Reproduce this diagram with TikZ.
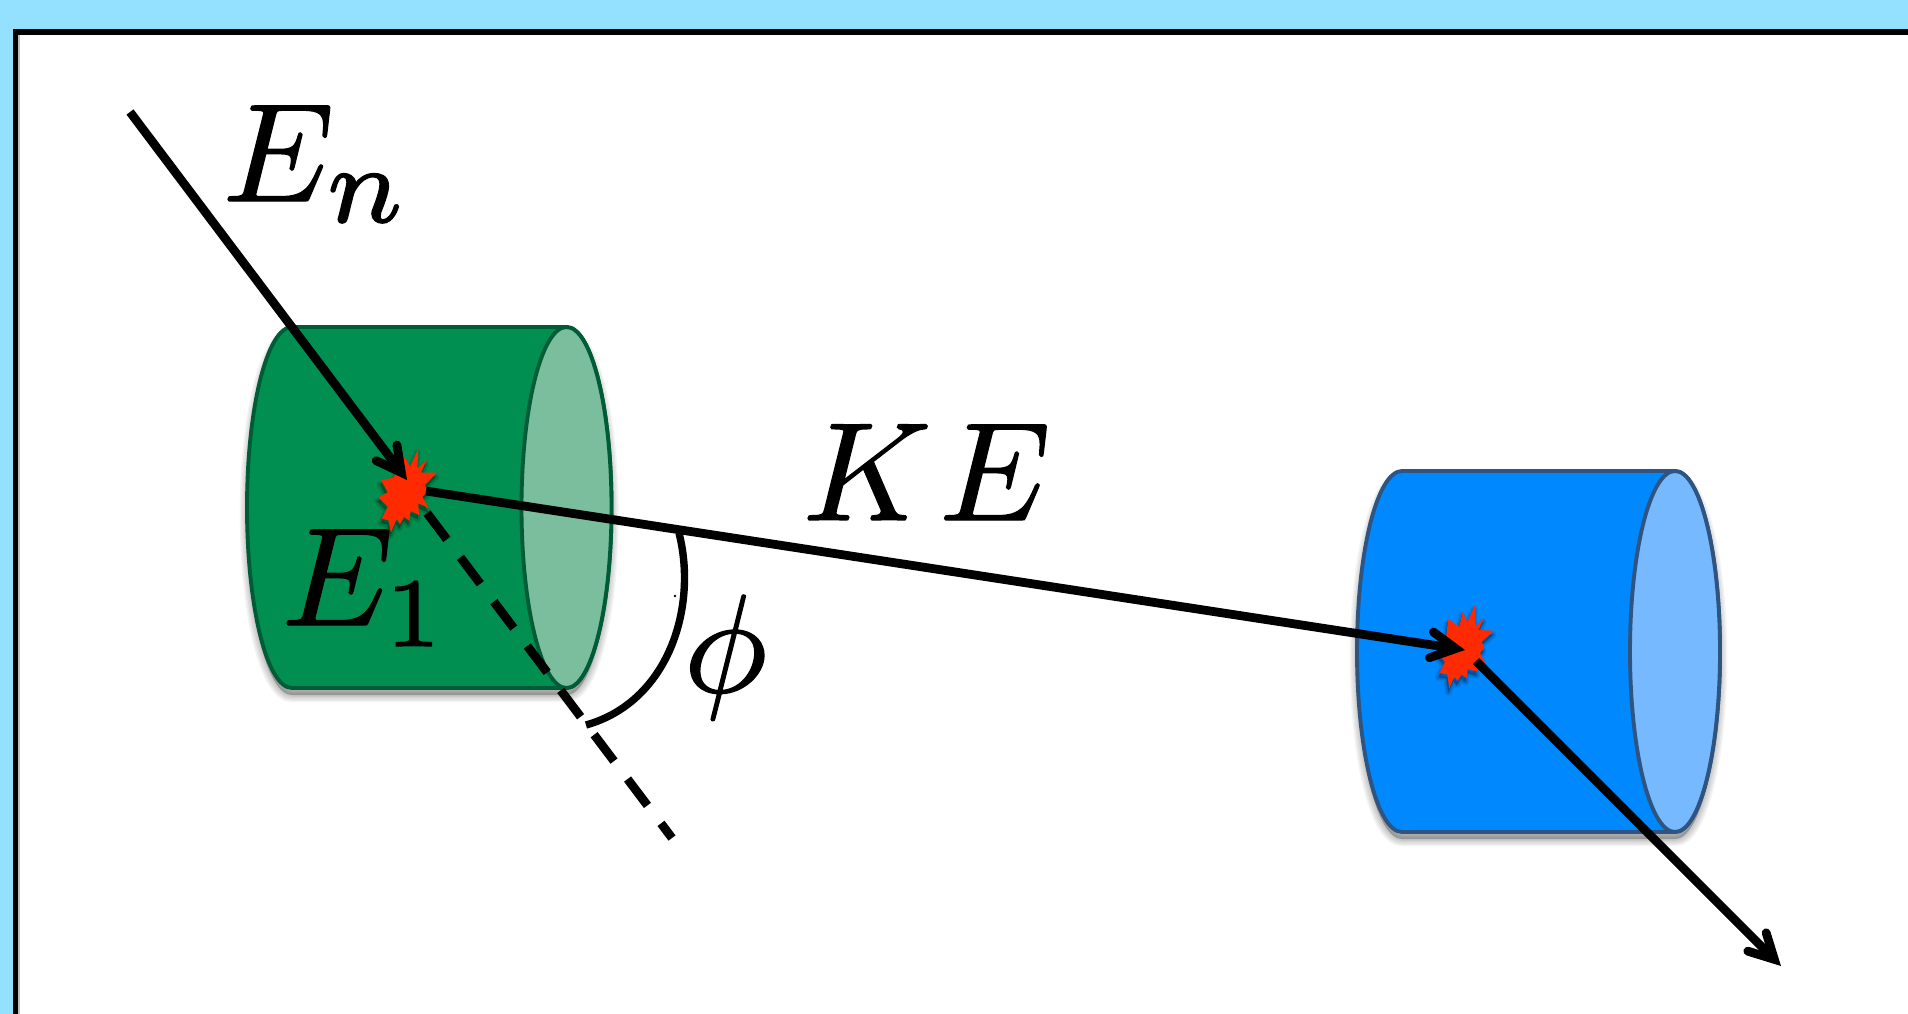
\documentclass[tikz,border=0pt]{standalone}
\usepackage{graphicx}
\usetikzlibrary{arrows.meta}
\definecolor{skybg}{RGB}{147,225,255}
\definecolor{greenfill}{RGB}{0,143,80}
\definecolor{greenedge}{RGB}{0,92,55}
\definecolor{greenface}{RGB}{122,190,157}
\definecolor{bluefill}{RGB}{0,136,255}
\definecolor{blueedge}{RGB}{47,84,128}
\definecolor{blueface}{RGB}{119,185,255}
\definecolor{burst}{RGB}{255,42,0}
\newcommand{\heavy}[1]{\special{pdf:code 2 Tr 0.1 w}#1\special{pdf:code 0 Tr 1 w}}
\tikzset{
  ray/.style={line width=12.5pt,draw=black,-{Straight Barb[length=35pt,width=37pt,line cap=round,line join=miter]}},
  dashray/.style={line width=12.5pt,draw=black,dash pattern=on 47pt off 32pt},
  anglearc/.style={line width=10.5pt,draw=black},
  biglabel/.style={inner sep=0pt,anchor=base west,scale=19.9},
  burststyle/.style={fill=burst,draw=none},
  softshadow/.style={draw=black,fill=black,opacity=0.045,line join=round}
}
% cylinder: #1 left x, #2 right-ellipse centre x, #3 centre y, #4 half height, #5 fill, #6 edge, #7 face
\newcommand{\mycylinder}[7]{%
  \foreach \w in {1,5,9,13,17,21}{
    \path[softshadow,line width=\w pt] (#1+45,#3-#4+7) arc[start angle=-90,end angle=-270,x radius=45,y radius=#4] -- (#2,#3+#4+7) arc[start angle=90,end angle=-90,x radius=45,y radius=#4] -- cycle;
  }
  \path[fill=#5,draw=#6,line width=5.5pt,line join=round] (#1+45,#3-#4) arc[start angle=-90,end angle=-270,x radius=45,y radius=#4] -- (#2,#3+#4) arc[start angle=90,end angle=-90,x radius=45,y radius=#4] -- cycle;
  \path[fill=#7,draw=#6,line width=5.5pt] (#2,#3) ellipse[x radius=45,y radius=#4];
}
\begin{document}
\begin{tikzpicture}[x=0.05cm,y=-0.05cm]
\useasboundingbox (0,0) rectangle (1908,1014);
\fill[skybg] (0,0) rectangle (1908,1014);
\fill[black] (13,29) rectangle (1908,1014);
\fill[white] (18,35) rectangle (1908,1014);
\fill[black!25] (18,35) rectangle (19.5,1014);

\mycylinder{247}{566.5}{507.5}{180.5}{greenfill}{greenedge}{greenface}
\mycylinder{1357}{1675}{651.5}{180.5}{bluefill}{blueedge}{blueface}

% burst shapes
\def\burstA{(418.3,448.3) -- (417.3,468.3) -- (426.7,460) -- (421,472.7) -- (436.7,472.7) -- (425,485) -- (427.7,491.7) -- (422.3,496.7) -- (429,508.3) -- (418.3,503.3) -- (419,515) -- (410.7,511) -- (409.3,521) -- (404.3,516.7) -- (400,524.3) -- (396.7,519) -- (391,532.3) -- (388.3,520) -- (381.7,519) -- (387.7,506.7) -- (378.3,497.3) -- (387.7,492.3) -- (381,480) -- (393.3,477.7) -- (405,456.7) -- (410,466.7) -- cycle}
\def\burstB{(1475,605) -- (1475,626.7) -- (1484.3,617.7) -- (1478.3,630) -- (1494,630.7) -- (1481.7,641.7) -- (1484.3,647.7) -- (1480,653.3) -- (1486,665) -- (1476.7,661) -- (1477.3,671.7) -- (1467.7,669) -- (1466.7,678.3) -- (1461.7,674.3) -- (1457.7,681) -- (1454.3,676.7) -- (1449.3,688.3) -- (1447.3,674.3) -- (1439.3,673.3) -- (1445,661.7) -- (1436.7,651.7) -- (1445,645) -- (1448.3,619) -- (1459.3,626.7) -- (1462.7,611.7) -- (1467.3,622.3) -- cycle}
\foreach \w in {1,4,7,10}{
  \path[softshadow,line width=\w pt,opacity=0.07,shift={(-1,4)}] \burstA;
  \path[softshadow,line width=\w pt,opacity=0.07,shift={(-1,4)}] \burstB;
}
\path[burststyle] \burstA;
\path[burststyle] \burstB;

% labels
\node[biglabel] (en) at (220,201) {\heavy{$E_{\scalebox{1.12}{$\scriptstyle n$}}$}};
\node[biglabel] (eone) at (279,625) {\heavy{$E_1$}};
\node[biglabel] (ke) at (800,520) {\heavy{$K\mkern1muE$}};
\node[biglabel] (phi) at (681,692) {\heavy{$\phi$}};

% connector ends
\coordinate (nstart) at (130,112);
\coordinate (hitA) at (407,480);
\coordinate (keStart) at (426,491);
\coordinate (hitB) at (1465,650);
\coordinate (outStart) at (1476,661);
\coordinate (outEnd) at (1781,966);
\coordinate (dashStart) at (427,513);
\coordinate (dashEnd) at (672,838);
\coordinate (arcStart) at (679,533);
\coordinate (arcEnd) at (586,725);

\draw[ray] (nstart) -- (hitA);
\draw[ray] (keStart) -- (hitB);
\draw[ray] (outStart) -- (outEnd);
\draw[dashray] (dashStart) -- (dashEnd);
\draw[anglearc] (arcStart) .. controls (698,608) and (668,702) .. (arcEnd);
\fill[black] (675,596) circle[radius=1.3];
\end{tikzpicture}
\end{document}
